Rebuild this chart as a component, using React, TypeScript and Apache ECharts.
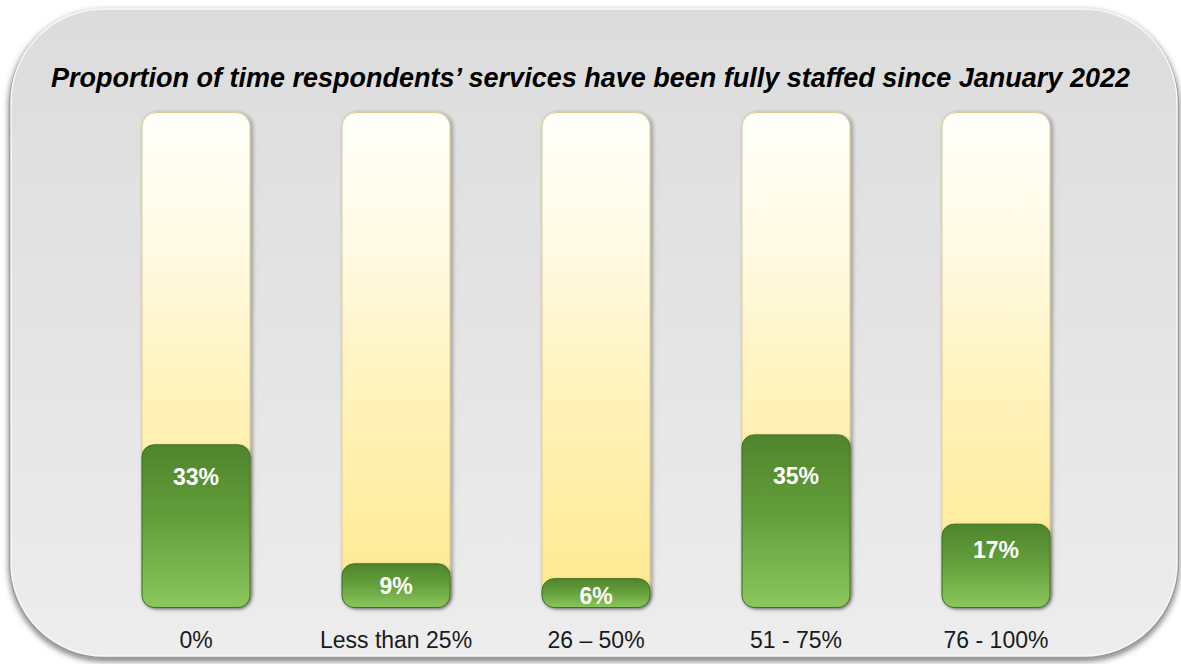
import React, { useEffect, useRef } from "react";
import * as echarts from "echarts";

// Staffing survey: share of respondents by proportion of time fully staffed
const categories: string[] = ["0%", "Less than 25%", "26 – 50%", "51 - 75%", "76 - 100%"];
const shares: number[] = [33, 9, 6, 35, 17];
const fullScale: number[] = [100, 100, 100, 100, 100];
const chartTitle =
  "Proportion of time respondents’ services have been fully staffed since January 2022";

// distance of each value label below the top of its bar
const labelDistance: number[] = [21, 11, 6, 30, 15];

const FONT = "'Liberation Sans', Arial, Helvetica, sans-serif";

export default function App() {
  const ref = useRef<HTMLDivElement>(null);

  useEffect(() => {
    if (!ref.current) return;
    const chart = echarts.init(ref.current, undefined, { renderer: "svg" });

    const trackFill = new echarts.graphic.LinearGradient(0, 0, 0, 1, [
      { offset: 0, color: "#fffffa" },
      { offset: 0.25, color: "#fffbe6" },
      { offset: 0.6, color: "#fff2b8" },
      { offset: 1, color: "#ffe98e" },
    ]);
    const greenFill = new echarts.graphic.LinearGradient(0, 0, 0, 1, [
      { offset: 0, color: "#4f852c" },
      { offset: 0.45, color: "#639e3b" },
      { offset: 1, color: "#8ac75d" },
    ]);

    chart.setOption({
      animation: false,
      title: {
        text: chartTitle,
        left: "center",
        top: 59,
        textStyle: {
          fontFamily: FONT,
          fontSize: 27,
          fontWeight: "bold",
          fontStyle: "italic",
          color: "#000000",
        },
      },
      graphic: [
        {
          type: "rect",
          z: 0,
          shape: { x: 9, y: 9, width: 1170, height: 650, r: 95 },
          style: {
            fill: "#9a9a9a",
            shadowColor: "rgba(0,0,0,0.55)",
            shadowBlur: 6,
            shadowOffsetY: 2,
          },
        },
        {
          type: "rect",
          z: 0,
          shape: { x: 11, y: 9, width: 1166, height: 647, r: 93 },
          style: {
            fill: new echarts.graphic.LinearGradient(0, 0, 0, 1, [
              { offset: 0, color: "#dcdcdc" },
              { offset: 1, color: "#ededed" },
            ]),
            stroke: "#f8f8f8",
            lineWidth: 1.5,
          },
        },
      ],
      grid: { left: 96, right: 85, top: 112, bottom: 56 },
      xAxis: {
        type: "category",
        data: categories,
        axisLine: { show: false },
        axisTick: { show: false },
        axisLabel: {
          margin: 20,
          fontFamily: FONT,
          fontSize: 23,
          color: "#1a1a1a",
        },
      },
      yAxis: {
        type: "value",
        min: 0,
        max: 100,
        show: false,
      },
      series: [
        {
          type: "bar",
          data: fullScale,
          barWidth: 109,
          barGap: "-100%",
          silent: true,
          z: 2,
          itemStyle: {
            color: trackFill,
            borderRadius: 14,
            borderColor: "#d8cb94",
            borderWidth: 1,
            shadowColor: "rgba(0,0,0,0.35)",
            shadowBlur: 4,
            shadowOffsetX: 2,
            shadowOffsetY: 1,
          },
        },
        {
          type: "bar",
          data: shares.map((v, i) => ({
            value: v,
            label: { distance: labelDistance[i] },
          })),
          barWidth: 109,
          z: 3,
          itemStyle: {
            color: greenFill,
            borderRadius: 12,
            borderColor: "#3f6e22",
            borderWidth: 1,
            shadowColor: "rgba(0,0,0,0.35)",
            shadowBlur: 3,
            shadowOffsetX: 1,
            shadowOffsetY: 1,
          },
          label: {
            show: true,
            position: "insideTop",
            formatter: "{c}%",
            fontFamily: FONT,
            fontSize: 23,
            fontWeight: "bold",
            color: "#ffffff",
          },
        },
      ],
    });

    return () => chart.dispose();
  }, []);

  return (
    <div
      ref={ref}
      style={{ position: "absolute", left: 0, top: 0, width: 1181, height: 664 }}
    />
  );
}
